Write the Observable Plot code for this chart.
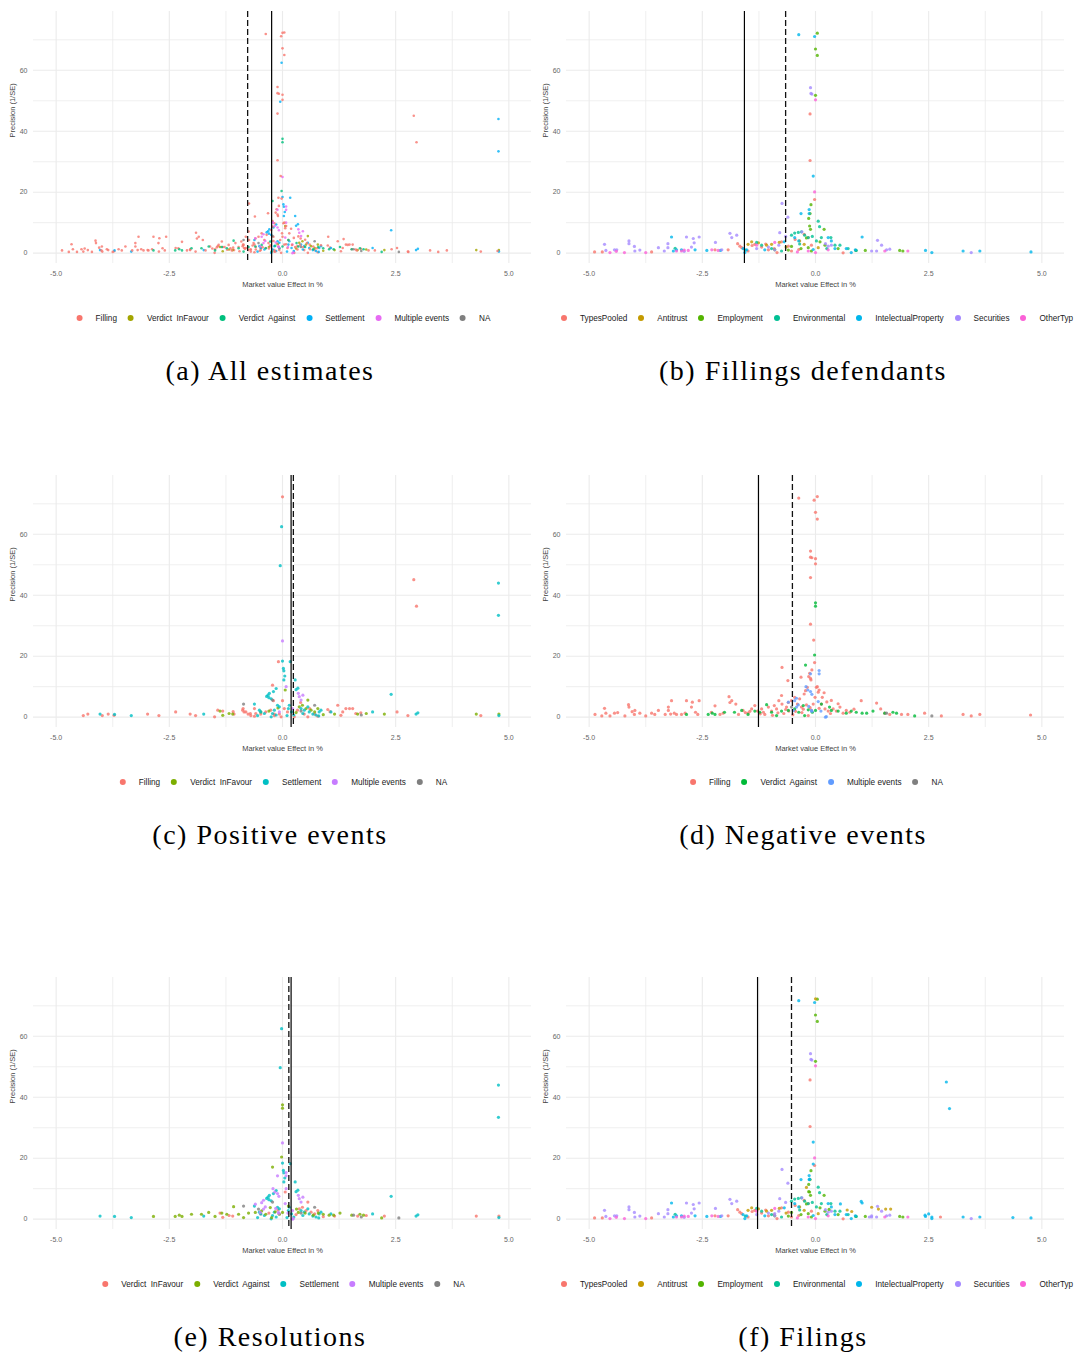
<!DOCTYPE html>
<html><head><meta charset="utf-8">
<script src="https://cdn.jsdelivr.net/npm/d3@7"></script>
<script src="https://cdn.jsdelivr.net/npm/@observablehq/plot@0.6"></script>
<style>
html,body{margin:0;padding:0;background:#fff;}
#root{position:relative;width:1076px;height:1356px;overflow:hidden;background:#fff;}
.panel{position:absolute;}
.legend{position:absolute;display:flex;align-items:center;white-space:pre;font-family:"Liberation Sans",Arial,sans-serif;font-size:8.2px;color:#1a1a1a;height:10px;}
.legend .sw{display:inline-block;width:6px;height:6px;border-radius:50%;margin-right:13px;}
.legend .it{display:flex;align-items:center;margin-right:11px;}
.caption{position:absolute;font-family:"Liberation Serif","Times New Roman",serif;font-size:28px;letter-spacing:1.5px;color:#000;white-space:nowrap;transform:translate(-50%,-50%);}
</style></head><body><div id="root"></div><script>
// ---------- data: Positive events (c) ----------
const posFilling = [[0.0,72.3],[2.9,45.1],[2.96,36.4],[-0.09,18.2],[-0.22,10.5],[0.0,5.4],
[-4.40,0.5],[-4.30,1.0],[-3.98,0.5],[-3.85,1.0],[-3.72,0.6],[-2.98,1.0],[-2.73,0.5],[-2.36,1.7],[-2.04,1.0],[-1.92,0.5],[-1.50,0.1],[-1.43,2.3],[-1.32,2.0],[-1.09,1.8],[-1.07,1.0],[-0.87,2.8],[-0.85,1.7],[-0.76,1.0],[-0.70,0.5],[-0.62,2.8],[-0.59,1.2],[-0.20,5.4],
[-0.18,1.0],[-0.03,0.1],[1.22,3.9],[1.33,1.7],[1.40,2.8],[1.48,2.8],[1.55,2.8],[1.62,1.2],[1.73,1.4],[1.29,0.6],[2.53,1.7],[2.77,0.5],[4.38,0.5],[0.04,2.8],
[-0.88,2.3],[-0.81,1.7],[-0.71,1.2],[-0.62,0.3],[-0.48,1.0],[-0.37,1.7],[-0.26,2.3],[-0.18,0.5],[-0.07,1.0],[0.11,1.7],[0.26,0.1],[0.33,2.3],[0.48,1.0],[0.56,0.1],[0.71,1.0],[0.78,0.3],[1.0,2.5],[1.05,1.8],[0.6,2.8],[0.4,4.8]];
const posInFavour = [[-1.38,2.0],[-1.32,0.6],[-1.18,1.2],[-1.10,1.0],[-0.48,1.7],[0.06,8.9],[0.37,3.4],[0.44,3.9],[0.52,2.8],[0.56,5.6],[0.63,2.3],[0.71,1.7],[0.78,2.8],[1.15,1.0],[1.66,1.0],[1.85,1.2],[2.25,1.0],[4.28,1.0],[4.78,1.0],[0.3,1.5],[0.9,0.8],[-0.3,2.0],[-0.1,3.0]];
const posSettlement = [[-0.02,62.5],[-0.05,49.7],[4.77,44],[4.77,33.4],[0.0,18.4],[0.17,18.2],[0.02,16],[0.03,15.2],[0.05,13.5],[0.03,12.2],[0.28,12.2],[0.34,9.5],[0.30,9.0],[-0.14,9.4],[-0.20,8.4],[-0.29,7.8],[-0.32,7.2],[-0.35,6.8],[2.40,7.5],
[-4.03,1.0],[-3.71,0.9],[-3.34,0.5],[-1.74,1.0],[-0.62,4.3],[-0.51,2.3],[-0.48,1.7],[-0.40,1.2],[-0.30,6.4],[-0.25,6.0],[-0.22,1.2],[-0.18,2.3],[-0.14,0.7],[-0.11,3.9],[-0.07,3.4],[0.13,2.8],[0.15,3.9],[0.20,1.7],[0.25,0.7],[0.41,2.8],[0.48,2.3],[0.56,3.4],[0.59,1.7],[0.67,1.0],[0.74,0.7],[0.81,1.7],[0.85,2.3],[1.07,1.7],[1.99,1.7],[2.95,1.0],[2.99,1.4],[4.78,0.5],[-0.55,0.5],[-0.25,0.1],[0.1,0.5],[0.45,1.2],[0.8,0.4]];
const posMultiple = [[0.0,25],[0.08,10],[0.35,7.8],[0.41,5.6],[0.37,6.7],[-0.07,1.7],[0.22,2.8],[0.45,7.2]];
const posNA = [[-0.86,4.3],[-0.22,5.6],[0.71,3.9],[1.74,0.7],[0.41,2.0]];

// ---------- data: Negative events (d) ----------
const negFilling = [[-0.37,71.9],[0.04,72.4],[-0.03,71.2],[0.0,67.2],[0.04,65],[-0.11,54.5],[-0.11,52.5],[-0.08,52.3],[0.0,52],[0.0,50.3],[-0.11,45.8],[-0.11,30.5],[-0.04,25.3],[-0.02,17.9],[-0.74,16.3],[-0.61,12],[-0.13,14.4],[-0.15,13.3],[-0.11,12.7],[-0.1,12.2],[0.04,10],[0.08,8.9],[0.19,8],[-0.32,13.1],[-0.08,15.5],
[-4.87,0.9],[-4.66,2.9],[-4.72,0.4],[-4.63,1.3],[-4.54,0.4],[-4.44,1.3],[-4.37,1.5],[-4.21,0.4],[-4.13,4.1],[-4.12,3.3],[-3.99,2.2],[-4.0,0.9],[-3.88,1.3],[-3.75,0.4],[-3.62,1.3],[-3.47,2.2],[-3.32,0.9],[-3.25,3.3],[-3.25,2.2],[-3.18,5.4],[-3.2,1.0],[-3.12,1.3],[-3.07,0.9],[-2.96,0.9],[-2.88,1.3],[-2.85,5.4],[-2.74,3.3],[-2.72,4.9],[-2.65,1.6],[-2.57,5.4],[-2.6,0.9],[-2.22,3.7],[-2.11,0.9],[-2.04,1.3],[-1.91,6.7],[-1.85,5.4],[-1.76,4.3],[-1.89,4.8],
[-1.7,0.9],[-1.6,2.2],[-1.49,1.3],[-1.41,2.7],[-1.34,3.8],[-1.28,2.0],[-1.19,2.7],[-1.12,0.9],[-1.04,3.3],[-0.97,2.0],[-0.91,3.8],[-0.86,2.7],[-0.81,5.4],[-0.75,7.1],[-0.74,4.3],[-0.64,3.3],[-0.59,2.0],[-0.53,5.4],[-0.46,6.5],[-0.40,4.3],[-0.35,6.0],[-0.31,3.3],[-0.25,7.6],[-0.22,8.7],[-0.18,9.8],
[-0.16,0.5],[-0.09,2.2],[-0.05,4.3],[-0.01,6.5],[0.02,9.8],[0.06,8.2],[0.13,4.3],[0.21,2.7],[0.28,2.0],[0.39,2.7],[0.46,2.0],[0.54,3.3],[0.61,1.3],[0.68,2.2],[0.76,1.6],
[1.01,5.4],[1.35,4.6],[1.44,2.7],[1.53,1.3],[1.64,0.9],[1.9,0.9],[2.04,0.9],[2.41,1.3],[2.78,0.4],[3.26,0.9],[3.44,0.4],[3.63,0.9],[4.75,0.7],
[-1.55,1.5],[-1.15,1.6],[-0.95,0.6],[-0.7,1.2],[-0.5,0.8],[-0.3,1.5],[-0.6,4.8],[-0.2,4.0],[0.35,5.5],[0.25,5.0],[0.15,6.5],
[-1.45,1.9],[-1.22,1.1],[-0.83,1.4],[-0.66,2.5],[-0.44,1.9],[-0.27,2.6],[-0.12,3.1],[0.08,2.9],[0.33,1.2],[0.5,4.4],[0.85,2.6],[-2.3,1.6],[-3.55,0.9],[-4.05,1.8]];
const negAgainst = [[0.0,37.5],[0.0,36.4],[-0.02,20.4],[-0.22,17.1],
[-2.37,0.9],[-2.28,1.3],[-2.22,0.9],[-2.01,1.6],[-1.79,1.6],[-1.63,2.2],[-1.49,0.9],[-1.34,2.0],[-1.23,1.6],[-1.08,4.1],[-0.97,1.6],[-0.86,0.5],[-0.75,2.0],[-0.6,2.2],[-0.46,2.7],[-0.37,1.6],[-0.27,3.8],[-0.24,0.5],[-0.16,2.4],[-0.07,1.6],[0.0,2.2],[0.13,4.3],
[0.31,3.3],[0.35,2.2],[0.5,2.0],[0.68,1.3],[0.79,2.0],[0.9,1.6],[1.03,1.3],[1.13,1.3],[1.27,2.0],[1.53,1.3],[1.71,1.6],[1.79,1.3],[2.19,0.4],[-2.85,0.9]];
const negMultiple = [[0.08,15.3],[0.08,14.2],[-0.11,14.2],[-0.21,10],[-0.17,8.9],[-0.11,8.4],[-0.08,7.5],[-0.42,6.2],[-0.38,4.0],[0.06,5.1],[-0.15,3.5],[-0.08,1.9],[0.24,0.2],
[-0.6,4.9],[-0.46,5.4],[-0.42,3.3],[-0.49,2.2],[-0.09,2.2],[0.12,2.0],[0.22,0.0]];
const negNA = [[2.57,0.4],[1.57,1.3],[-0.53,3.3]];

// ---------- data: Filings of defendants by case type (b) ----------
const defTypesPooled = [[-0.12,45.7],[-0.12,30.4],[-0.02,17.6],[-4.88,0.4],[-4.71,0.4],[-3.62,0.4],[-2.22,1.1],[-1.93,1.1],[-1.72,3.1],[-1.67,2.3],[-1.63,1.8],[-1.49,0.7],[-1.34,2.9],[-1.19,2.0],[-1.04,1.1],[-0.91,1.5],[-0.75,3.7],[-0.60,2.3],[-0.53,0.7],[-0.37,1.2],[-0.25,6.2],[-0.16,5.1],[-0.09,2.6],[0.61,0.1],[-1.4,2.5],[-1.1,3.0],[-0.85,0.2],[-0.45,4.5]];
const defAntitrust = [[-1.49,2.9],[-1.41,3.7],[-1.26,3.4],[-1.08,2.6],[-0.97,2.9],[-0.35,4.0],[-0.25,2.9],[0.06,1.8],[-0.8,3.5],[-0.65,2.0]];
const defEmployment = [[0.04,72.2],[0.0,67],[0.04,64.9],[0.0,51.8],[-0.1,15.9],[-0.15,11.4],[-0.13,8.9],[-0.11,7.8],[0.19,7.8],[-0.9,1.1],[-0.53,2.2],[-0.32,1.5],[-0.16,1.8],[-0.09,0.7],[0.10,3.7],[0.21,2.6],[0.50,1.5],[0.89,0.9],[1.10,0.9],[1.86,0.9],[1.93,0.7],[-0.12,13.0],[-0.2,5.0],[-0.6,1.0]];
const defEnvironmental = [[0.06,10.5],[0.09,8.7],[-1.30,3.5],[-1.19,2.6],[-0.97,1.5],[-0.75,0.7],[-0.53,5.9],[-0.46,6.6],[-0.38,6.8],[-0.31,7.0],[-0.24,5.9],[-0.16,5.1],[-0.07,5.5],[0.02,4.0],[0.13,5.1],[0.34,5.1],[0.43,2.6],[0.54,2.6],[0.72,1.5],[0.90,0.9],[-1.55,1.0],[-0.35,3.0],[0.25,1.5],[-3.1,1.6]];
const defIP = [[-0.37,71.7],[-0.02,71.1],[-0.05,25.3],[-0.32,13.0],[-0.14,14.3],[-0.14,13.0],[-3.18,5.3],[-3.14,0.7],[-3.07,1.1],[-2.96,1.1],[-2.66,1.1],[-2.40,0.9],[-1.60,1.5],[-1.56,0.2],[-1.52,1.1],[-1.12,1.1],[-0.69,3.7],[-0.46,5.1],[-0.37,4.0],[-0.05,1.2],[0.28,5.1],[0.35,4.0],[0.43,1.5],[0.68,1.5],[0.79,0.2],[0.88,1.1],[1.03,5.3],[2.43,0.9],[2.57,0.2],[3.26,0.7],[3.63,0.7],[4.76,0.4],[-2.1,0.9]];
const defSecurities = [[-0.11,54.3],[-0.1,52.4],[-0.08,52.2],[-0.74,16.3],[-0.61,11.8],[-4.66,2.9],[-4.63,0.9],[-4.44,1.1],[-4.39,1.1],[-4.12,4.0],[-4.12,3.1],[-4.0,2.2],[-3.99,0.7],[-3.88,1.0],[-3.47,1.8],[-3.26,3.1],[-3.26,1.8],[-3.34,0.7],[-2.85,5.3],[-2.70,4.8],[-2.68,3.4],[-2.57,5.3],[-2.74,2.0],[-2.21,3.5],[-1.89,6.5],[-1.85,5.1],[-1.74,5.9],[-2.07,1.1],[-1.30,1.5],[-1.04,2.0],[-0.90,1.1],[-0.81,2.6],[-0.79,6.7],[-0.66,5.5],[0.22,3.1],[0.28,2.3],[0.35,2.6],[1.24,0.7],[1.35,0.7],[1.46,2.6],[1.37,4.2],[1.57,1.1],[1.64,1.3],[3.44,0.2],[-0.3,7.0],[-2.9,0.6]];
const defOther = [[0.0,50.3],[-0.02,20.1],[-4.54,0.2],[-4.22,0.2],[-3.75,0.2],[-3.07,0.7],[-2.96,0.7],[-2.81,0.9],[-2.29,1.1],[-2.15,0.9],[-1.30,2.6],[-0.90,3.5],[-0.16,0.7],[0.28,1.1],[1.53,0.7],[2.04,0.7],[-4.4,0.6],[-2.9,1.0],[-0.4,0.4],[0.0,0.2]];

// ---------- data: additional filings (f) ----------
const filIP = [[2.89,45.0],[2.96,36.3],[-0.05,18.1],[-0.13,13.1],[2.42,1.3],[2.50,1.7],[2.57,0.7],[4.36,0.5],[1.01,5.8],[0.55,5.0]];
const filAntitrust = [[0.0,72.3],[-0.2,10.4],[1.24,3.9],[1.39,3.3],[1.55,3.3],[1.66,3.3],[0.7,3.0],[0.8,2.5]];
const filTypesPooled = [[2.76,0.7]];
const filSecurities = [[1.19,0.7],[1.24,1.1],[-0.9,1.8]];
const filEmployment = [[-0.15,9.0],[0.3,3.2]];

// ---------- categories, colours, reference lines ----------
const evA = ["Filling","Verdict  InFavour","Verdict  Against","Settlement","Multiple events","NA"];
const colA = ["#F8766D","#A3A500","#00BF7D","#00B0F6","#E76BF3","#7F7F7F"];
const evC = ["Filling","Verdict  InFavour","Settlement","Multiple events","NA"];
const colC = ["#F8766D","#7CAE00","#00BFC4","#C77CFF","#7F7F7F"];
const evD = ["Filling","Verdict  Against","Multiple events","NA"];
const colD = ["#F8766D","#00BA38","#619CFF","#7F7F7F"];
const evE = ["Verdict  InFavour","Verdict  Against","Settlement","Multiple events","NA"];
const colE = ["#F8766D","#7CAE00","#00BFC4","#C77CFF","#7F7F7F"];
const types = ["TypesPooled","Antitrust","Employment","Environmental","IntelectualProperty","Securities","OtherTyp"];
const colT = ["#F8766D","#C49A00","#53B400","#00C094","#00B6EB","#A58AFF","#FB61D7"];
const xTicks = [-5,-2.5,0,2.5,5];
const yTicks = [0,20,40,60];
const captions = ["(a) All estimates","(b) Fillings defendants","(c) Positive events","(d) Negative events","(e) Resolutions","(f) Filings"];
const solidLines = [-0.24,-1.57,0.19,-1.26,0.19,-1.28];
const dashedLines = [-0.77,-0.66,0.24,-0.51,0.14,-0.53];

// ---------- build tables ----------
const tag = (arr, cat) => arr.map(([x,y]) => ({x, y, cat}));
const dataC = [...tag(posFilling,"Filling"),...tag(posInFavour,"Verdict  InFavour"),...tag(posSettlement,"Settlement"),...tag(posMultiple,"Multiple events"),...tag(posNA,"NA")];
const dataD = [...tag(negFilling,"Filling"),...tag(negAgainst,"Verdict  Against"),...tag(negMultiple,"Multiple events"),...tag(negNA,"NA")];
const dataA = [...dataC, ...dataD];
const dataE = dataA.filter(d => d.cat !== "Filling");
const dataB = [...tag(defTypesPooled,types[0]),...tag(defAntitrust,types[1]),...tag(defEmployment,types[2]),...tag(defEnvironmental,types[3]),...tag(defIP,types[4]),...tag(defSecurities,types[5]),...tag(defOther,types[6])];
const dataF = [...dataB,...tag(filTypesPooled,types[0]),...tag(filAntitrust,types[1]),...tag(filEmployment,types[2]),...tag(filIP,types[4]),...tag(filSecurities,types[5])];

const root = document.getElementById("root");
const rowTop = [1, 465, 967];

function panel(idx, data, domain, range, r, legendPos) {
  const col = idx % 2, row = Math.floor(idx / 2);
  const left = col === 0 ? 0 : 536;
  const width = col === 0 ? 536 : 540;
  const mL = col === 0 ? 33 : 30, mR = col === 0 ? 5 : 12;
  const top = rowTop[row];
  const gridMajor = {stroke:"#ebebeb", strokeOpacity:1, strokeWidth:1.1};
  const gridMinor = {stroke:"#ebebeb", strokeOpacity:1, strokeWidth:0.8};
  const chart = Plot.plot({
    width, height: 292, marginTop: 10, marginBottom: 30, marginLeft: mL, marginRight: mR,
    style: {fontFamily: "'Liberation Sans', Arial, sans-serif", fontSize: "7px", color: "#4d4d4d", background: "transparent", overflow: "visible"},
    x: {domain: [-5.5, 5.5]},
    y: {domain: [-3.4, 79.3]},
    color: {type: "ordinal", domain, range},
    marks: [
      Plot.gridX([-3.75,-1.25,1.25,3.75], gridMinor),
      Plot.gridX(xTicks, gridMajor),
      Plot.gridY([10,30,50,70], gridMinor),
      Plot.gridY(yTicks, gridMajor),
      Plot.axisX(xTicks, {tickSize: 0, tickPadding: 8, tickFormat: d => d.toFixed(1), label: null, fill: "#666"}),
      Plot.axisY(yTicks, {tickSize: 0, tickPadding: 6, label: null, fill: "#666"}),
      Plot.text(["Market value Effect in %"], {frameAnchor: "bottom", dy: 23, fill: "#444", fontSize: 7.5}),
      Plot.text(["Precision (1/SE)"], {frameAnchor: "left", dx: -21, rotate: -90, fill: "#444", fontSize: 7.5}),
      Plot.dot(data, {x: "x", y: "y", fill: "cat", r, fillOpacity: 0.8, stroke: null}),
      Plot.ruleX([solidLines[idx]], {stroke: "#000", strokeWidth: 1.2}),
      Plot.ruleX([dashedLines[idx]], {stroke: "#111", strokeWidth: 1.3, strokeDasharray: "6,3"})
    ]
  });
  const wrap = document.createElement("div");
  wrap.className = "panel";
  wrap.style.left = left + "px"; wrap.style.top = top + "px";
  wrap.appendChild(chart);
  root.appendChild(wrap);

  const lg = document.createElement("div");
  lg.className = "legend";
  domain.forEach((k, i) => {
    const it = document.createElement("span"); it.className = "it";
    const sw = document.createElement("span"); sw.className = "sw"; sw.style.background = range[i];
    const tx = document.createElement("span"); tx.textContent = k;
    it.appendChild(sw); it.appendChild(tx); lg.appendChild(it);
  });
  lg.style.top = (top + 317 - 5) + "px";
  if (legendPos.center !== undefined) {
    lg.style.left = legendPos.center + "px";
    lg.style.transform = "translateX(-50%)";
  } else {
    lg.style.left = legendPos.left + "px";
  }
  root.appendChild(lg);

  const cap = document.createElement("div");
  cap.className = "caption";
  cap.textContent = captions[idx];
  cap.style.left = (col === 0 ? 270 : 803) + "px";
  cap.style.top = (top + 370) + "px";
  root.appendChild(cap);
}

panel(0, dataA, evA, colA, 1.3, {center: 289});
panel(1, dataB, types, colT, 1.6, {left: 561});
panel(2, dataC, evC, colC, 1.6, {center: 289});
panel(3, dataD, evD, colD, 1.6, {center: 822});
panel(4, dataE, evE, colE, 1.6, {center: 289});
panel(5, dataF, types, colT, 1.6, {left: 561});
</script></body></html>
